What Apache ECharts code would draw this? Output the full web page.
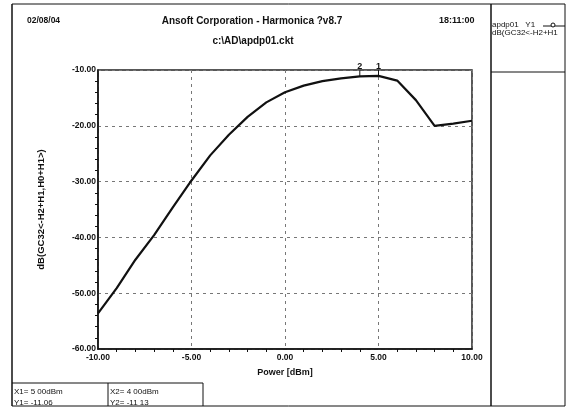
<!DOCTYPE html>
<html>
<head>
<meta charset="utf-8">
<script src="https://cdn.jsdelivr.net/npm/echarts@6/dist/echarts.min.js"></script>
<style>
  html, body { margin: 0; padding: 0; background: #fff; }
  #chart { width: 568px; height: 408px; }
</style>
</head>
<body>
<div id="chart"></div>
<script>
// data
const power = [-10, -9, -8, -7, -6, -5, -4, -3, -2, -1, 0, 1, 2, 3, 4, 5, 6, 7, 8, 9, 10];
const gain = [-53.6, -49.1, -44.0, -39.6, -34.6, -29.8, -25.3, -21.6, -18.4, -15.8, -14.0, -12.8, -12.0, -11.5, -11.13, -11.06, -11.9, -15.4, -20.0, -19.6, -19.1];
const markers = [
  { name: "1", x: 5, y: -11.06 },
  { name: "2", x: 4, y: -11.13 },
];

const font = "Liberation Sans, Arial, sans-serif";
const chart = echarts.init(document.getElementById("chart"));

const line = (x1, y1, x2, y2, w) => ({
  type: "line",
  shape: { x1, y1, x2, y2 },
  style: { stroke: "#111", lineWidth: w || 1 },
});
const txt = (x, y, text, opts) => ({
  type: "text",
  x, y,
  style: Object.assign({ text, fill: "#111", font: "bold 9px " + font, verticalAlign: "middle" }, opts || {}),
});

const option = {
  animation: false,
  backgroundColor: "#fff",
  grid: { left: 98, right: 96, top: 70, bottom: 59, show: true, borderColor: "#222", borderWidth: 1.5 },
  xAxis: {
    type: "value",
    min: -10,
    max: 10,
    interval: 5,
    name: "Power [dBm]",
    nameLocation: "middle",
    nameGap: 19,
    nameTextStyle: { color: "#111", fontFamily: font, fontWeight: "bold", fontSize: 9 },
    axisLine: { onZero: false, lineStyle: { color: "#111", width: 1.5 } },
    axisTick: { show: false },
    minorTick: { show: true, splitNumber: 5, length: 3, lineStyle: { color: "#111" } },
    axisLabel: {
      color: "#111", fontFamily: font, fontWeight: "bold", fontSize: 8.5, margin: 4,
      formatter: (v) => v.toFixed(2),
    },
    splitLine: { show: true, lineStyle: { color: "#777", type: [3, 4], width: 1 } },
  },
  yAxis: {
    type: "value",
    min: -60,
    max: -10,
    interval: 10,
    name: "dB(GC32<-H2+H1,H0+H1>)",
    nameLocation: "middle",
    nameGap: 52,
    nameTextStyle: { color: "#111", fontFamily: font, fontWeight: "bold", fontSize: 9.5 },
    axisLine: { onZero: false, lineStyle: { color: "#111", width: 1.5 } },
    axisTick: { show: false },
    minorTick: { show: true, splitNumber: 5, length: 3, lineStyle: { color: "#111" } },
    axisLabel: {
      color: "#111", fontFamily: font, fontWeight: "bold", fontSize: 8.5, margin: 2,
      formatter: (v) => v.toFixed(2),
    },
    splitLine: { show: true, lineStyle: { color: "#777", type: [3, 4], width: 1 } },
  },
  series: [
    {
      type: "line",
      data: power.map((p, i) => [p, gain[i]]),
      smooth: false,
      symbol: "none",
      lineStyle: { color: "#111", width: 2.2 },
      markPoint: {
        symbol: "rect",
        symbolSize: [1, 6],
        symbolOffset: [0, -3],
        itemStyle: { color: "#111" },
        label: {
          show: true, position: "top", distance: -1,
          color: "#111", fontFamily: font, fontWeight: "bold", fontSize: 9,
          formatter: (p) => p.name,
        },
        data: markers.map((m) => ({ name: m.name, coord: [m.x, m.y] })),
      },
    },
  ],
  graphic: [
    // outer frame
    line(12, 4, 565, 4),
    line(12, 4, 12, 406, 1.5),
    line(491, 4, 491, 406, 1.5),
    line(565, 4, 565, 406),
    line(491, 72, 565, 72),
    line(12, 406, 565, 406),
    // header
    txt(27, 21, "02/08/04", { font: "bold 8.5px " + font }),
    txt(252, 21, "Ansoft Corporation - Harmonica ?v8.7", { align: "center", font: "bold 10px " + font }),
    txt(253, 41, "c:\\AD\\apdp01.ckt", { align: "center", font: "bold 10px " + font }),
    txt(439, 21, "18:11:00"),
    // legend box
    txt(492, 25, "apdp01   Y1", { font: "8px " + font }),
    line(543, 26, 565, 26),
    { type: "circle", shape: { cx: 553, cy: 25, r: 2 }, style: { fill: "#fff", stroke: "#111" } },
    txt(492, 33, "dB(GC32<-H2+H1", { font: "8px " + font }),
    // marker readouts
    line(12, 383, 203, 383),
    line(108, 383, 108, 406),
    line(203, 383, 203, 406),
    txt(14, 392, "X1= 5 00dBm", { font: "8px " + font }),
    txt(14, 403, "Y1= -11.06", { font: "8px " + font }),
    txt(110, 392, "X2= 4 00dBm", { font: "8px " + font }),
    txt(110, 403, "Y2= -11 13", { font: "8px " + font }),
  ],
};
chart.setOption(option);
</script>
</body>
</html>
